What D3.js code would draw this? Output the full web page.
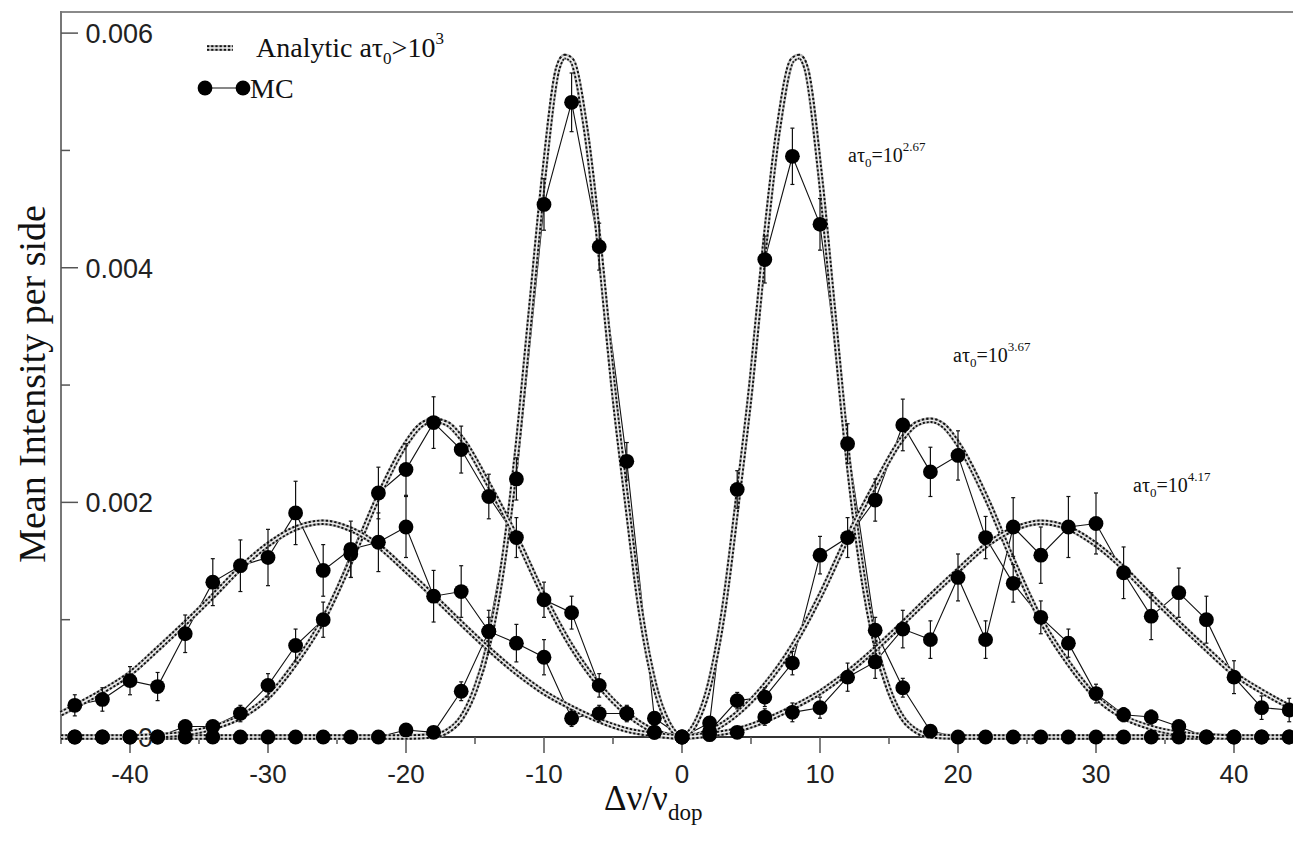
<!DOCTYPE html>
<html>
<head>
<meta charset="utf-8">
<script src="https://cdn.jsdelivr.net/npm/d3@7"></script>
<style>
  body { margin: 0; background: #fff; }
  svg { display: block; }
  .serif { font-family: "Liberation Serif", "Times New Roman", serif; }
  .sans { font-family: "Liberation Sans", Arial, sans-serif; }
</style>
</head>
<body>
<svg id="chart" width="1293" height="841"></svg>
<script>
// MC sample points, every 2 Doppler widths
const xs = [-44, -42, -40, -38, -36, -34, -32, -30, -28, -26, -24, -22, -20, -18, -16, -14, -12, -10, -8, -6, -4, -2,
  0, 2, 4, 6, 8, 10, 12, 14, 16, 18, 20, 22, 24, 26, 28, 30, 32, 34, 36, 38, 40, 42, 44];

const mc267 = [0, 0, 0, 0, 0, 0, 0, 0, 0, 0, 0, 0,
  0.00006, 0.00004, 0.00039, 0.0009, 0.0022, 0.00454, 0.00541, 0.00418, 0.00235, 0.00016,
  0,
  0.00012, 0.00211, 0.00407, 0.00495, 0.00437, 0.0025, 0.00091, 0.00042, 0.00005,
  0, 0, 0, 0, 0, 0, 0, 0, 0, 0, 0, 0, 0];
const err267 = [0.00002, 0.00002, 0.00002, 0.00002, 0.00002, 0.00002, 0.00002, 0.00002, 0.00002, 0.00002, 0.00002, 0.00002,
  0.00003, 0.00003, 0.00008, 0.00012, 0.00018, 0.00022, 0.00025, 0.0002, 0.00016, 0.00005,
  0.00002,
  0.00004, 0.00016, 0.0002, 0.00024, 0.00022, 0.00017, 0.00011, 0.00008, 0.00003,
  0.00002, 0.00002, 0.00002, 0.00002, 0.00002, 0.00002, 0.00002, 0.00002, 0.00002, 0.00002, 0.00002, 0.00002, 0.00002];

const mc367 = [0, 0, 0, 0, 0.00009, 0.00009, 0.0002, 0.00044, 0.00078, 0.001, 0.00156, 0.00208, 0.00228, 0.00268,
  0.00245, 0.00205, 0.0017, 0.00117, 0.00106, 0.00044, 0.0002, 0.00004,
  0,
  0.00005, 0.00031, 0.00034, 0.00063, 0.00155, 0.0017, 0.00202, 0.00266, 0.00226, 0.0024, 0.0017, 0.00131,
  0.00102, 0.0008, 0.00037, 0.00019, 0.00017, 0.00009, 0, 0, 0, 0];
const err367 = [0.00002, 0.00002, 0.00002, 0.00002, 0.00004, 0.00004, 0.00007, 0.0001, 0.00014, 0.00015, 0.0002, 0.00022, 0.00022, 0.00022,
  0.0002, 0.00019, 0.00017, 0.00015, 0.00014, 0.0001, 0.00006, 0.00003,
  0.00002,
  0.00003, 0.00007, 0.00008, 0.0001, 0.00016, 0.00017, 0.00018, 0.00022, 0.00021, 0.00021, 0.00018, 0.00016,
  0.00014, 0.00012, 0.00008, 0.00006, 0.00006, 0.00004, 0.00002, 0.00002, 0.00002, 0.00002];

const mc417 = [0.00027, 0.00032, 0.00048, 0.00043, 0.00088, 0.00132, 0.00146, 0.00153, 0.00191, 0.00142, 0.0016,
  0.00166, 0.00179, 0.0012, 0.00124, 0.0009, 0.0008, 0.00068, 0.00016, 0.0002, 0.0002, 0.00004,
  0,
  0.00002, 0.00004, 0.00017, 0.00021, 0.00025, 0.00051, 0.00064, 0.00092, 0.00083, 0.00136, 0.00083, 0.00179,
  0.00155, 0.00179, 0.00182, 0.0014, 0.00103, 0.00123, 0.001, 0.00051, 0.00025, 0.00023];
const err417 = [0.00009, 0.0001, 0.00012, 0.00012, 0.00016, 0.0002, 0.00022, 0.00024, 0.00027, 0.00022, 0.00024,
  0.00025, 0.00026, 0.00022, 0.00022, 0.00018, 0.00016, 0.00015, 0.00007, 0.00007, 0.00007, 0.00003,
  0.00002,
  0.00003, 0.00003, 0.00007, 0.00008, 0.00009, 0.00012, 0.00014, 0.00016, 0.00016, 0.0002, 0.00016, 0.00025,
  0.00024, 0.00026, 0.00026, 0.00022, 0.0002, 0.00021, 0.0002, 0.00014, 0.0001, 0.0001];

// analytic profiles (positive half, curve is symmetric)
const ax267 = [0, 1, 2, 3, 4, 5, 6, 7, 8, 8.5, 9, 10, 11, 12, 13, 14, 15, 16, 17, 18, 20, 30, 45];
const an267 = [0, 0.00012, 0.00045, 0.00107, 0.002, 0.003, 0.0042, 0.0052, 0.00577, 0.0058, 0.0057, 0.0048,
  0.0036, 0.0024, 0.00145, 0.0008, 0.0004, 0.00016, 0.00005, 0.00001, 0, 0, 0];

const ax367 = [0, 2, 4, 6, 8, 10, 12, 14, 16, 17, 18, 19, 20, 22, 24, 26, 28, 30, 32, 34, 36, 38, 40, 45];
const an367 = [0, 0.00005, 0.0002, 0.00044, 0.00077, 0.0012, 0.0017, 0.00215, 0.00255, 0.00267, 0.0027, 0.00265,
  0.0025, 0.00205, 0.0015, 0.001, 0.00063, 0.00034, 0.00017, 0.00008, 0.00003, 0.00001, 0, 0];

const ax417 = [0, 2, 4, 6, 8, 10, 12, 14, 16, 18, 20, 22, 24, 26, 28, 30, 32, 34, 36, 38, 40, 42, 44, 45];
const an417 = [0, 0.00002, 0.00006, 0.00014, 0.00025, 0.00038, 0.00055, 0.00075, 0.00097, 0.0012, 0.00142, 0.00163,
  0.00177, 0.00183, 0.00178, 0.00164, 0.00144, 0.0012, 0.00097, 0.00075, 0.00054, 0.00039, 0.00026, 0.0002];

const xTicks = [-40, -30, -20, -10, 0, 10, 20, 30, 40];
const xMinor = [-45, -35, -25, -15, -5, 5, 15, 25, 35, 45];
const yTicks = [0, 0.002, 0.004, 0.006];
const yMinor = [0.001, 0.003, 0.005];

const svg = d3.select("#chart");

const x = d3.scaleLinear().domain([-45, 45]).range([61, 1303]);
const y = d3.scaleLinear().domain([0, 0.00618]).range([737, 12]);

// mirror a half profile into a full curve
function fullCurve(ax, an) {
  const pts = [];
  for (let i = ax.length - 1; i > 0; i--) pts.push([-ax[i], an[i]]);
  for (let i = 0; i < ax.length; i++) pts.push([ax[i], an[i]]);
  return pts;
}

const series = [
  { mc: mc267, err: err267, curve: fullCurve(ax267, an267) },
  { mc: mc367, err: err367, curve: fullCurve(ax367, an367) },
  { mc: mc417, err: err417, curve: fullCurve(ax417, an417) }
];

// frame
svg.append("line").attr("x1", 61).attr("x2", 1293).attr("y1", 12).attr("y2", 12)
  .attr("stroke", "#8a8a8a").attr("stroke-width", 2);
svg.append("line").attr("x1", 61).attr("x2", 61).attr("y1", 11).attr("y2", 738)
  .attr("stroke", "#777").attr("stroke-width", 2);

// y ticks point inward, labels right aligned
const yAxisG = svg.append("g");
yAxisG.selectAll(".ymaj").data(yTicks).join("line")
  .attr("x1", 61).attr("x2", 78).attr("y1", d => y(d)).attr("y2", d => y(d))
  .attr("stroke", "#555").attr("stroke-width", 1.5);
yAxisG.selectAll(".ymin").data(yMinor).join("line")
  .attr("x1", 61).attr("x2", 70).attr("y1", d => y(d)).attr("y2", d => y(d))
  .attr("stroke", "#555").attr("stroke-width", 1.5);
yAxisG.selectAll("text").data(yTicks).join("text")
  .attr("class", "sans")
  .attr("x", 153).attr("y", d => y(d) + 10)
  .attr("text-anchor", "end").attr("font-size", 27).attr("fill", "#222")
  .text(d => d === 0 ? "0" : d.toFixed(3));

// x axis with outward ticks
svg.append("line").attr("x1", 61).attr("x2", 1293).attr("y1", 737).attr("y2", 737)
  .attr("stroke", "#333").attr("stroke-width", 2);
const xAxisG = svg.append("g");
xAxisG.selectAll(".xmaj").data(xTicks).join("line")
  .attr("x1", d => x(d)).attr("x2", d => x(d)).attr("y1", 737).attr("y2", 753)
  .attr("stroke", "#555").attr("stroke-width", 1.5);
xAxisG.selectAll(".xmin").data(xMinor).join("line")
  .attr("x1", d => x(d)).attr("x2", d => x(d)).attr("y1", 737).attr("y2", 744)
  .attr("stroke", "#555").attr("stroke-width", 1.5);
xAxisG.selectAll("text").data(xTicks).join("text")
  .attr("class", "sans")
  .attr("x", d => x(d)).attr("y", 783)
  .attr("text-anchor", "middle").attr("font-size", 26).attr("fill", "#222")
  .text(d => String(d));

const plot = svg.append("g");

const mcLine = d3.line().x(d => x(d[0])).y(d => y(d[1]));
const anLine = d3.line().x(d => x(d[0])).y(d => y(d[1])).curve(d3.curveMonotoneX);

// MC connecting lines
series.forEach(s => {
  plot.append("path")
    .datum(xs.map((v, i) => [v, s.mc[i]]))
    .attr("d", mcLine)
    .attr("fill", "none").attr("stroke", "#111").attr("stroke-width", 1.1);
});

// analytic curves: gray rope with dark dashes
function drawRope(g, pathD) {
  g.append("path").attr("d", pathD).attr("fill", "none")
    .attr("stroke", "#b5b5b5").attr("stroke-width", 6);
  g.append("path").attr("d", pathD).attr("fill", "none")
    .attr("stroke", "#111").attr("stroke-width", 5.5).attr("stroke-dasharray", "2.2,2");
  g.append("path").attr("d", pathD).attr("fill", "none")
    .attr("stroke", "#eee").attr("stroke-width", 1.6);
}
series.forEach(s => drawRope(plot, anLine(s.curve)));

// error bars and markers
series.forEach(s => {
  const pts = xs.map((v, i) => ({ x: v, y: s.mc[i], e: s.err[i] }));
  const eb = plot.append("g").attr("stroke", "#111").attr("stroke-width", 1.2);
  eb.selectAll(".bar").data(pts).join("line")
    .attr("x1", d => x(d.x)).attr("x2", d => x(d.x))
    .attr("y1", d => y(d.y - d.e)).attr("y2", d => y(d.y + d.e));
  eb.selectAll(".capT").data(pts).join("line")
    .attr("x1", d => x(d.x) - 2).attr("x2", d => x(d.x) + 2)
    .attr("y1", d => y(d.y + d.e)).attr("y2", d => y(d.y + d.e));
  eb.selectAll(".capB").data(pts).join("line")
    .attr("x1", d => x(d.x) - 2).attr("x2", d => x(d.x) + 2)
    .attr("y1", d => y(d.y - d.e)).attr("y2", d => y(d.y - d.e));
  plot.append("g").selectAll("circle").data(pts).join("circle")
    .attr("cx", d => x(d.x)).attr("cy", d => y(d.y)).attr("r", 7.4)
    .attr("fill", "#000");
});

// legend
const leg = svg.append("g");
drawRope(leg, "M207,48 L233,48");
const lt1 = leg.append("text").attr("class", "serif").attr("x", 256).attr("y", 57)
  .attr("font-size", 28).attr("fill", "#111");
lt1.append("tspan").text("Analytic aτ");
lt1.append("tspan").attr("font-size", 17).attr("dy", 7).text("0");
lt1.append("tspan").attr("dy", -7).text(">10");
lt1.append("tspan").attr("font-size", 17).attr("dy", -13).text("3");

leg.append("line").attr("x1", 205).attr("x2", 243).attr("y1", 88).attr("y2", 88)
  .attr("stroke", "#111").attr("stroke-width", 1.2);
leg.selectAll("circle").data([205, 243]).join("circle")
  .attr("cx", d => d).attr("cy", 88).attr("r", 7.4).attr("fill", "#000");
leg.append("text").attr("class", "serif").attr("x", 250).attr("y", 98)
  .attr("font-size", 28).attr("fill", "#111").text("MC");

// curve annotations
const notes = [
  { px: 848, py: 162, exp: "2.67" },
  { px: 953, py: 362, exp: "3.67" },
  { px: 1133, py: 492, exp: "4.17" }
];
notes.forEach(n => {
  const t = svg.append("text").attr("class", "serif").attr("x", n.px).attr("y", n.py)
    .attr("font-size", 20).attr("fill", "#111");
  t.append("tspan").text("aτ");
  t.append("tspan").attr("font-size", 13).attr("dy", 5).text("0");
  t.append("tspan").attr("dy", -5).text("=10");
  t.append("tspan").attr("font-size", 13).attr("dy", -11).text(n.exp);
});

// axis titles
svg.append("text").attr("class", "serif")
  .attr("transform", "translate(45,384) rotate(-90)")
  .attr("text-anchor", "middle").attr("font-size", 38).attr("fill", "#111")
  .text("Mean Intensity per side");

const xt = svg.append("text").attr("class", "serif").attr("x", 604).attr("y", 810)
  .attr("font-size", 35).attr("fill", "#111");
xt.append("tspan").text("Δν/ν");
xt.append("tspan").attr("font-size", 23).attr("dy", 10).text("dop");
</script>
</body>
</html>
